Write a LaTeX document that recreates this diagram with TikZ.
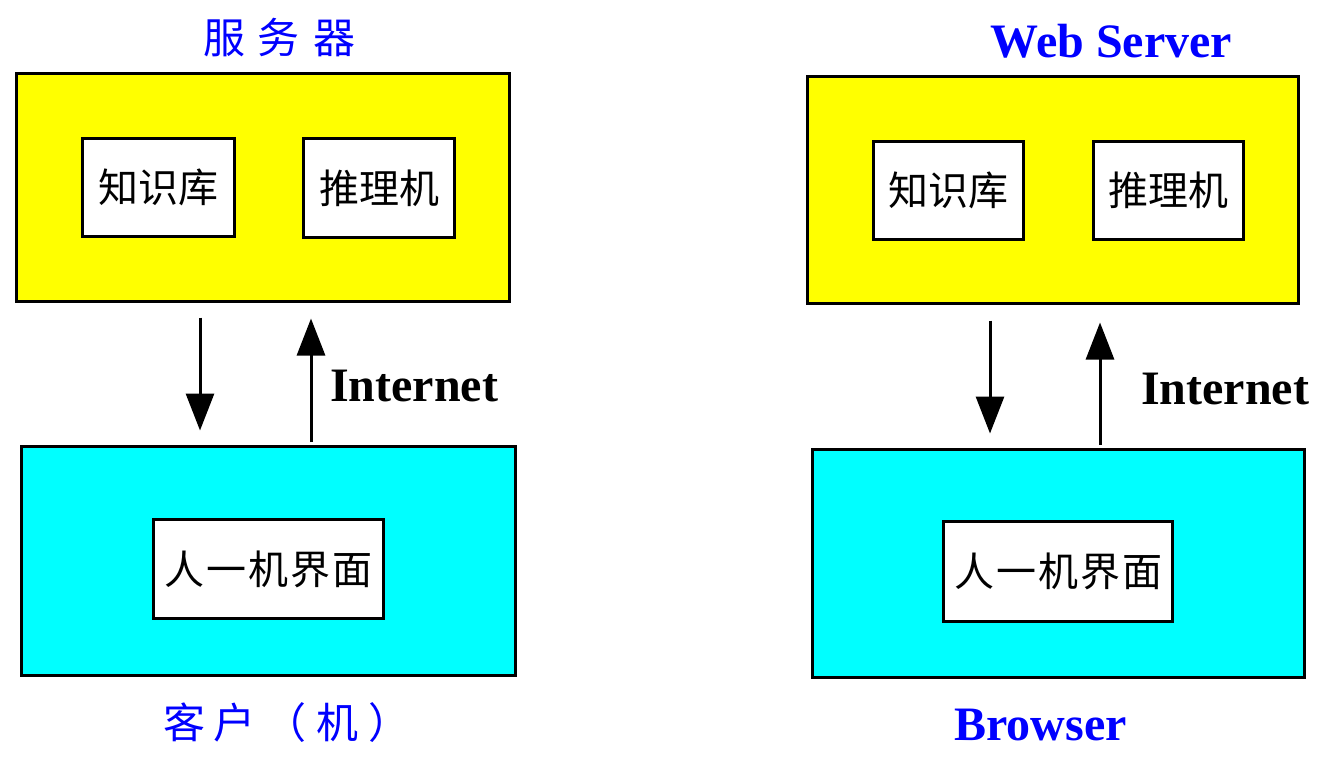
\documentclass[tikz,border=0pt]{standalone}
\usepackage{fontspec}
\setmainfont{Liberation Serif}
\newfontfamily\cjk{Noto Sans CJK SC}
\usetikzlibrary{arrows.meta}
\definecolor{ttlblue}{RGB}{0,0,255}
\definecolor{srvyellow}{RGB}{255,255,0}
\definecolor{clicyan}{RGB}{0,255,255}
\tikzset{
  outerbox/.style={draw=black, line width=3pt, inner sep=0pt},
  srvbox/.style={outerbox, fill=srvyellow},
  clibox/.style={outerbox, fill=clicyan},
  innerbox/.style={draw=black, line width=3pt, fill=white, inner sep=0pt,
    font=\cjk\fontsize{40}{46}\selectfont},
  arr/.style={line width=3pt, -{Triangle[length=37pt,width=28pt]}},
  cjktitle/.style={text=ttlblue, inner sep=0pt, font=\cjk\fontsize{42}{48}\selectfont},
  lattitle/.style={text=ttlblue, inner sep=0pt, font=\bfseries\fontsize{48}{54}\selectfont},
  netlabel/.style={inner sep=0pt, font=\bfseries\fontsize{48}{54}\selectfont}
}
\begin{document}
\begin{tikzpicture}[x=1pt, y=-1pt]
\useasboundingbox (0,0) rectangle (1325,764);
% ---------- left side ----------
\node[srvbox, minimum width=493pt, minimum height=228pt] (srvL) at (263,187.5) {};
\node[innerbox, minimum width=152pt, minimum height=98pt] (kbL) at (158.5,187.5) {知识库};
\node[innerbox, minimum width=151pt, minimum height=99pt] (ieL) at (379,188) {推理机};
\node[clibox, minimum width=494pt, minimum height=229pt] (cliL) at (268.5,561) {};
\node[innerbox, minimum width=230pt, minimum height=99pt] (uiL) at (268.5,569) {人\hspace{2pt}一\hspace{2pt}机\hspace{2pt}界\hspace{2pt}面};
\node[cjktitle] (tL) at (279,38) {服\hspace{13pt}务\hspace{13pt}器};
\node[cjktitle, anchor=west] (bL) at (163,723) {客\hspace{8pt}户\hspace{9pt}（\hspace{10pt}机\hspace{10pt}）};
\coordinate (xLd) at (200,0);
\coordinate (xLu) at (311,0);
\draw[arr] ([yshift=-14.5pt]srvL.south -| xLd) -- ([yshift=14.5pt]cliL.north -| xLd);
\draw[arr] ([yshift=3pt]cliL.north -| xLu) -- ([yshift=-15.5pt]srvL.south -| xLu);
\node[netlabel, anchor=base west] (netL) at (330,401) {Internet};
% ---------- right side ----------
\node[srvbox, minimum width=491pt, minimum height=227pt] (srvR) at (1053,190) {};
\node[innerbox, minimum width=150pt, minimum height=98pt] (kbR) at (948.5,190.5) {知识库};
\node[innerbox, minimum width=150pt, minimum height=98pt] (ieR) at (1168.5,190.5) {推理机};
\node[clibox, minimum width=492pt, minimum height=228pt] (cliR) at (1058.5,563.5) {};
\node[innerbox, minimum width=229pt, minimum height=100pt] (uiR) at (1058,571.5) {人\hspace{2pt}一\hspace{2pt}机\hspace{2pt}界\hspace{2pt}面};
\node[lattitle, anchor=base] (tR) at (1111.5,57) {Web Server};
\node[lattitle, anchor=base] (bR) at (1040.5,740) {Browser};
\coordinate (xRd) at (990,0);
\coordinate (xRu) at (1100,0);
\draw[arr] ([yshift=-15.5pt]srvR.south -| xRd) -- ([yshift=14.5pt]cliR.north -| xRd);
\draw[arr] ([yshift=3pt]cliR.north -| xRu) -- ([yshift=-17.5pt]srvR.south -| xRu);
\node[netlabel, anchor=base west] (netR) at (1141,404) {Internet};
\end{tikzpicture}
\end{document}
